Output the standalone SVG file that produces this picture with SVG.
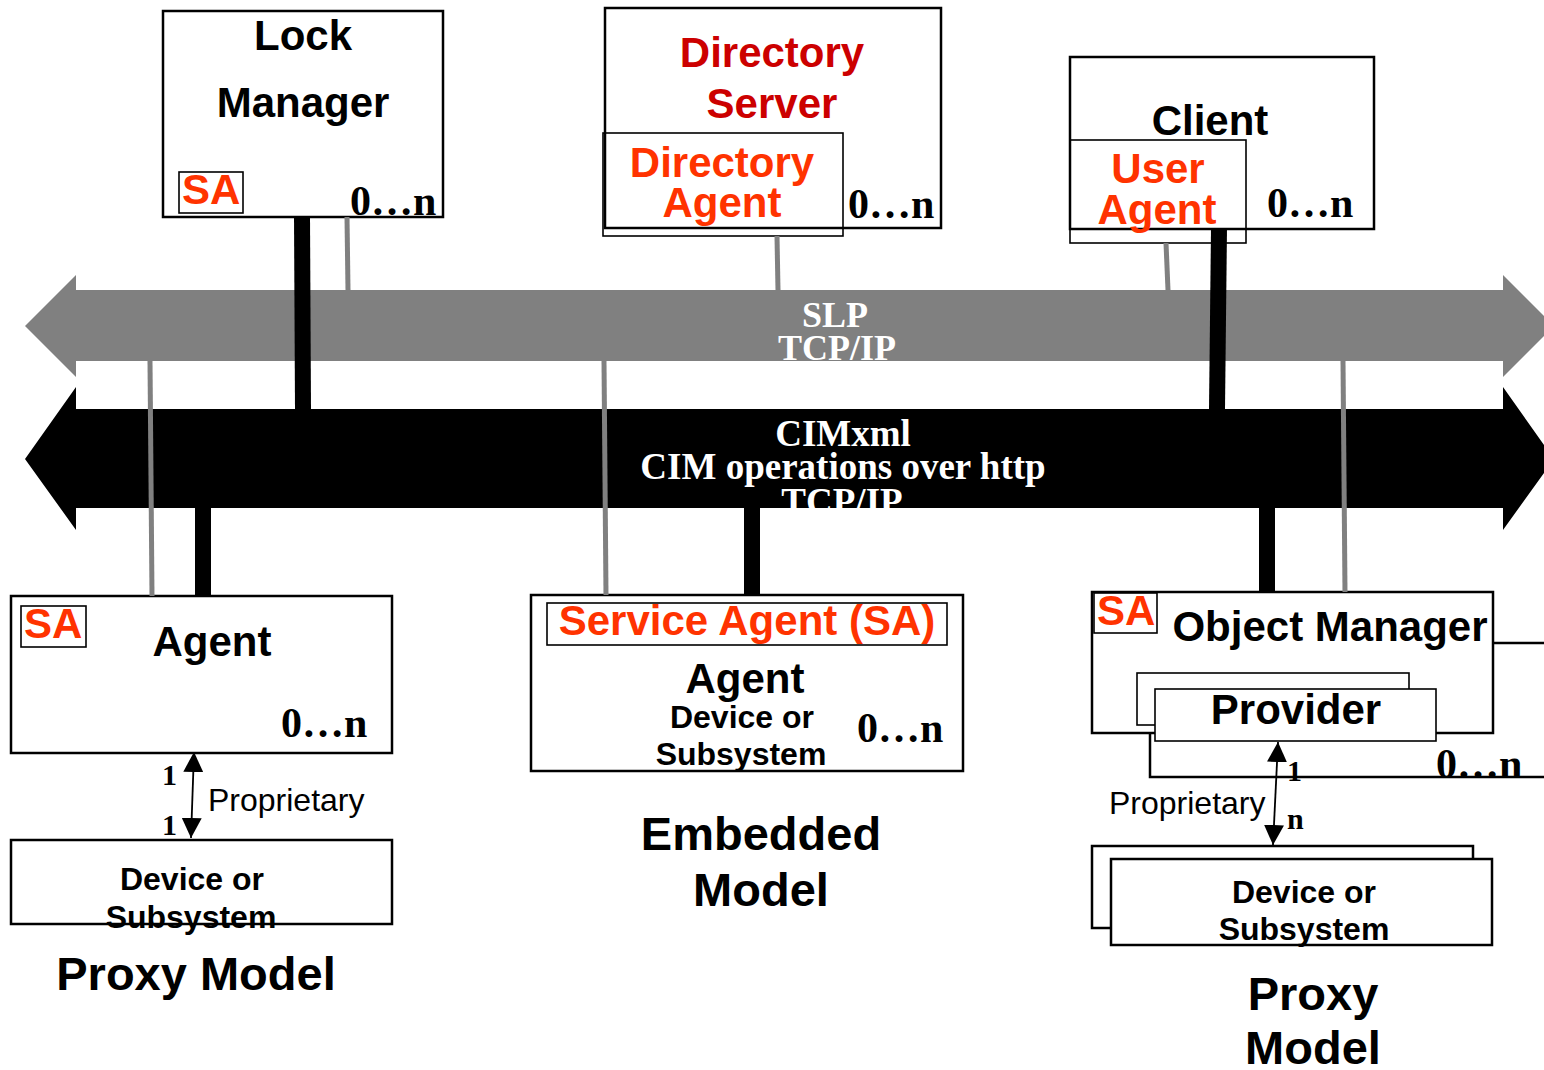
<svg xmlns="http://www.w3.org/2000/svg" width="1544" height="1070" viewBox="0 0 1544 1070">
  <style>
    .box { fill: #ffffff; stroke: #000000; stroke-width: 2.5; }
    .thin { fill: #ffffff; stroke: #000000; stroke-width: 1.6; }
    .nofill { fill: none; stroke: #000000; stroke-width: 1.6; }
    .h { font-family: "Liberation Sans", Arial, sans-serif; font-weight: bold; font-size: 42px; fill: #000000; text-anchor: middle; }
    .sm { font-family: "Liberation Sans", Arial, sans-serif; font-weight: bold; font-size: 32px; fill: #000000; text-anchor: middle; }
    .big { font-family: "Liberation Sans", Arial, sans-serif; font-weight: bold; font-size: 47px; fill: #000000; text-anchor: middle; }
    .red { fill: #CC0000; }
    .org { fill: #FF3300; }
    .sa { font-family: "Liberation Sans", Arial, sans-serif; font-weight: bold; font-size: 42px; fill: #FF3300; }
    .mult { font-family: "Liberation Serif", "Times New Roman", serif; font-weight: bold; font-size: 42px; fill: #000000; }
    .num { font-family: "Liberation Serif", "Times New Roman", serif; font-weight: bold; font-size: 30px; fill: #000000; }
    .prop { font-family: "Liberation Sans", Arial, sans-serif; font-size: 32px; fill: #000000; }
    .bus { font-family: "Liberation Serif", "Times New Roman", serif; font-weight: bold; fill: #ffffff; text-anchor: middle; }
    .gline { stroke: #808080; stroke-width: 5; fill: none; }
    .bline { stroke: #000000; stroke-width: 16; fill: none; }
    .parrow { stroke: #000000; stroke-width: 1.8; fill: none; marker-start: url(#tri); marker-end: url(#tri); }
  </style>
  <defs>
    <marker id="tri" markerUnits="userSpaceOnUse" viewBox="0 0 20 20" refX="20" refY="10" markerWidth="20" markerHeight="20" orient="auto-start-reverse">
      <path d="M0,0 L20,10 L0,20 Z" fill="#000000"/>
    </marker>
  </defs>

  <rect width="1544" height="1070" fill="#ffffff"/>

  <!-- protocol buses -->
  <g id="bus-slp">
    <polygon points="25,326 76,275 76,290 1503,290 1503,275 1554,326 1503,377 1503,361 76,361 76,377" fill="#808080"/>
    <text class="bus" x="835" y="327" font-size="36">SLP</text>
    <text class="bus" x="837" y="360" font-size="36">TCP/IP</text>
  </g>
  <g id="bus-cimxml">
    <polygon points="25,459 76,387 76,409 1503,409 1503,387 1554,459 1503,530 1503,508 76,508 76,530" fill="#000000"/>
    <text class="bus" x="843" y="446" font-size="37">CIMxml</text>
    <text class="bus" x="843" y="479" font-size="37">CIM operations over http</text>
    <text class="bus" x="842" y="514" font-size="37">TCP/IP</text>
  </g>
  <!-- white cover hides bus text outside the bars -->
  <rect x="600" y="361" width="500" height="48" fill="#ffffff"/>
  <rect x="600" y="508" width="500" height="20" fill="#ffffff"/>

  <!-- Lock Manager -->
  <g id="lock-manager">
    <rect class="box" x="163" y="11" width="280" height="206"/>
    <text class="h" x="303" y="50">Lock</text>
    <text class="h" x="303" y="117">Manager</text>
    <rect class="thin" x="179" y="172" width="64" height="41"/>
    <text class="sa" x="182" y="204">SA</text>
    <text class="mult" x="350" y="215">0…n</text>
  </g>

  <!-- Directory Server with Directory Agent -->
  <g id="directory-server">
    <rect class="box" x="605" y="8" width="336" height="220"/>
    <text class="h red" x="772" y="67">Directory</text>
    <text class="h red" x="772" y="118">Server</text>
    <rect class="nofill" x="603" y="133" width="240" height="103"/>
    <text class="h org" x="722" y="177">Directory</text>
    <text class="h org" x="722" y="217">Agent</text>
    <text class="mult" x="848" y="218">0…n</text>
  </g>

  <!-- Client with User Agent -->
  <g id="client">
    <rect class="box" x="1070" y="57" width="304" height="172"/>
    <text class="h" x="1210" y="135">Client</text>
    <rect class="nofill" x="1070" y="140" width="176" height="103"/>
    <text class="h org" x="1158" y="183">User</text>
    <text class="h org" x="1157" y="224">Agent</text>
    <text class="mult" x="1267" y="217">0…n</text>
  </g>

  <!-- Proxy model (left) -->
  <g id="proxy-agent">
    <rect class="box" x="11" y="596" width="381" height="157"/>
    <rect class="thin" x="21" y="606" width="65" height="41"/>
    <text class="sa" x="24" y="638">SA</text>
    <text class="h" x="212" y="656">Agent</text>
    <text class="mult" x="281" y="737">0…n</text>
  </g>
  <g id="proxy-labels">
    <text class="num" x="162" y="785">1</text>
    <text class="num" x="162" y="835">1</text>
    <text class="prop" x="208" y="811">Proprietary</text>
  </g>
  <g id="proxy-device">
    <rect class="box" x="11" y="840" width="381" height="84"/>
    <text class="sm" x="192" y="890">Device or</text>
    <text class="sm" x="191" y="928">Subsystem</text>
  </g>
  <text class="big" x="196" y="990">Proxy Model</text>

  <!-- Embedded model -->
  <g id="embedded-agent">
    <rect class="box" x="531" y="595" width="432" height="176"/>
    <rect class="thin" x="547" y="603" width="400" height="42"/>
    <text class="h org" x="747" y="635">Service Agent (SA)</text>
    <text class="h" x="745" y="693">Agent</text>
    <text class="sm" x="742" y="728">Device or</text>
    <text class="sm" x="741" y="765">Subsystem</text>
    <text class="mult" x="857" y="742">0…n</text>
  </g>
  <text class="big" x="761" y="850">Embedded</text>
  <text class="big" x="761" y="906">Model</text>

  <!-- Proxy model (right): Object Manager with providers -->
  <g id="object-manager">
    <rect class="box" x="1150" y="643" width="500" height="134"/>
    <rect class="box" x="1092" y="592" width="401" height="141"/>
    <rect class="thin" x="1094" y="593" width="63" height="40"/>
    <text class="sa" x="1097" y="625">SA</text>
    <text class="h" x="1330" y="641">Object Manager</text>
    <rect class="thin" x="1137" y="673" width="272" height="52"/>
    <rect class="thin" x="1155" y="689" width="281" height="52"/>
    <text class="h" x="1296" y="724">Provider</text>
    <text class="mult" x="1436" y="778">0…n</text>
  </g>
  <g id="om-labels">
    <text class="num" x="1287" y="781">1</text>
    <text class="num" x="1287" y="829">n</text>
    <text class="prop" x="1109" y="814">Proprietary</text>
  </g>
  <g id="om-devices">
    <rect class="box" x="1092" y="846" width="381" height="82"/>
    <rect class="box" x="1111" y="859" width="381" height="86"/>
    <text class="sm" x="1304" y="903">Device or</text>
    <text class="sm" x="1304" y="940">Subsystem</text>
  </g>
  <text class="big" x="1313" y="1010">Proxy</text>
  <text class="big" x="1313" y="1064">Model</text>

  <!-- connectors between nodes and buses, and proprietary links -->
  <g id="connectors">
    <line class="bline" x1="302" y1="216" x2="303" y2="409"/>
    <line class="gline" x1="347" y1="217" x2="348" y2="290"/>
    <line class="gline" x1="777" y1="236" x2="778" y2="290"/>
    <line class="gline" x1="1166" y1="243" x2="1168" y2="290"/>
    <line class="bline" x1="1219" y1="228" x2="1217" y2="409"/>
    <line class="gline" x1="150" y1="361" x2="152" y2="596"/>
    <line class="bline" x1="203" y1="508" x2="203" y2="597"/>
    <line class="gline" x1="604" y1="361" x2="606" y2="595"/>
    <line class="bline" x1="752" y1="508" x2="752" y2="596"/>
    <line class="bline" x1="1267" y1="508" x2="1267" y2="593"/>
    <line class="gline" x1="1343" y1="361" x2="1345" y2="592"/>
    <line class="parrow" x1="194" y1="752" x2="191" y2="838"/>
    <line class="parrow" x1="1278" y1="742" x2="1273" y2="845"/>
  </g>
</svg>
